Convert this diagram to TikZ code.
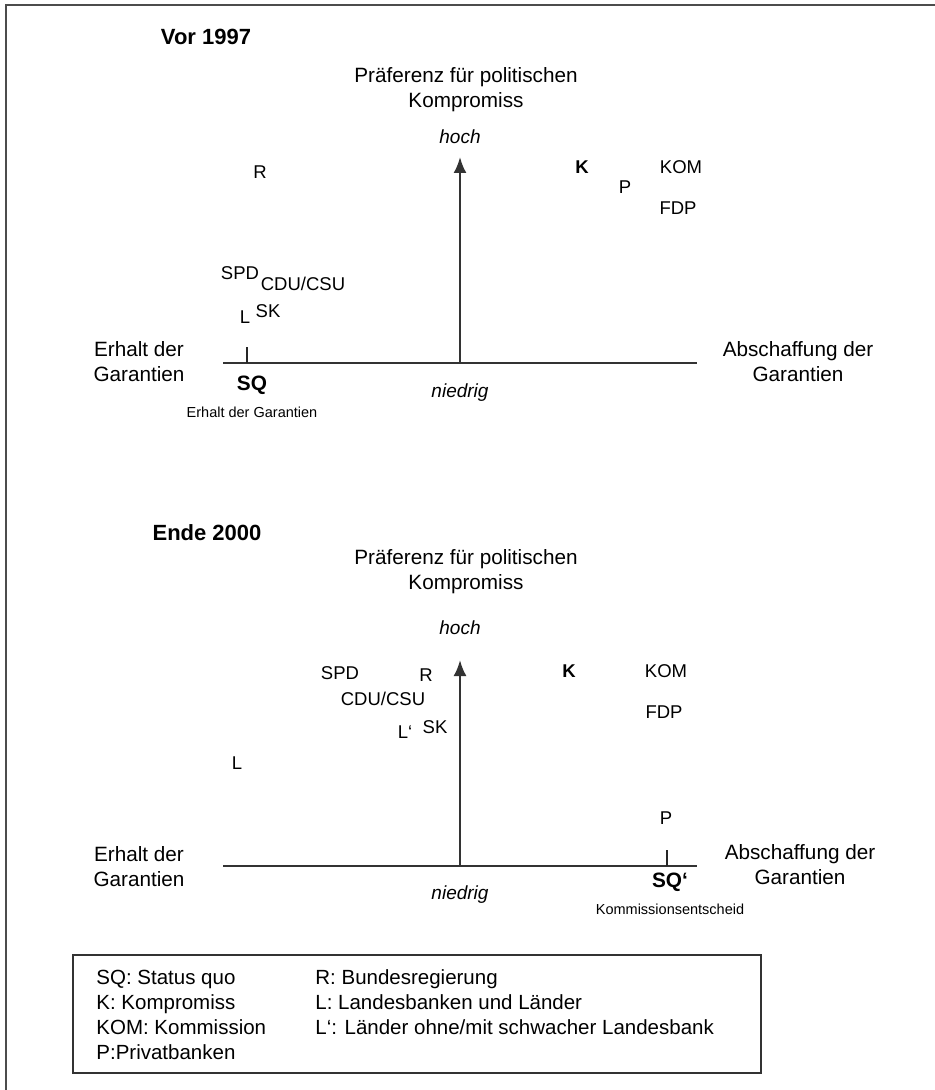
\documentclass[tikz,border=0pt]{standalone}
\usepackage{fontspec}
\setmainfont{Liberation Sans}
\usetikzlibrary{arrows.meta,positioning}

\begin{document}
\begin{tikzpicture}[x=0.5pt, y=-0.5pt,
    party/.style={inner sep=0pt, font=\fontsize{9.25}{11}\selectfont},
    axislabel/.style={inner sep=0pt, align=center, font=\fontsize{10.35}{12.5}\selectfont},
    level/.style={inner sep=0pt, font=\fontsize{9.5}{11}\selectfont\itshape},
    smalllabel/.style={inner sep=0pt, font=\fontsize{7.25}{9}\selectfont},
    title/.style={inner sep=0pt, font=\fontsize{11}{13}\selectfont\bfseries},
    legendline/.style={inner sep=0pt, anchor=base west, font=\fontsize{10.25}{12.5}\selectfont},
    axis/.style={draw=black!80, line width=1.2pt},
    tickmark/.style={draw=black!85, line width=1.4pt}]
    \useasboundingbox (0,0) rectangle (935,1090);
    % frame
    \draw[black!70, line width=1.1pt] (6,1090) -- (6,5) -- (935,5);

    % Vor 1997
    \node[title] (t1) at (206,37) {Vor 1997};
    \node[axislabel] (pref1) at (466,90) {Präferenz für politischen\\Kompromiss};
    \coordinate (o1) at (460,363);
    \coordinate (top1) at (460,157);
    \coordinate (w1) at (223,363);
    \coordinate (e1) at (697,363);
    \coordinate (sqa) at (247,363);
    \coordinate (sqa top) at (247,347);
    \draw[axis] (w1) -- (e1);
    \draw[axis, -{Latex[length=8pt,width=6.5pt]}] (o1) -- (top1);
    \draw[tickmark] (sqa) -- (sqa top);
    \node[level] (hoch1) at (460,137) {hoch};
    \node[level] (nied1) at (460,393) {niedrig};
    \node[axislabel] (erh1) at (139,362) {Erhalt der\\Garantien};
    \node[axislabel] (ab1) at (798,362) {Abschaffung der\\Garantien};
    \node[party, font=\fontsize{10.4}{12}\selectfont\bfseries] (sq1) at (252,385) {SQ};
    \node[smalllabel] (sq1txt) at (252,412) {Erhalt der Garantien};
    \node[party] (r1) at (260,172) {R};
    \node[party] (spd1) at (240,273) {SPD};
    \node[party] (cdu1) at (303,284) {CDU/CSU};
    \node[party] (l1) at (245,317) {L};
    \node[party] (sk1) at (268,311) {SK};
    \node[party, font=\fontsize{9.25}{11}\selectfont\bfseries] (k1) at (582,167) {K};
    \node[party] (p1) at (625,187) {P};
    \node[party] (kom1) at (681,167) {KOM};
    \node[party] (fdp1) at (678,208) {FDP};

    % Ende 2000
    \node[title] (t2) at (207,533) {Ende 2000};
    \node[axislabel] (pref2) at (466,572) {Präferenz für politischen\\Kompromiss};
    \coordinate (o2) at (460,866);
    \coordinate (top2) at (460,660);
    \coordinate (w2) at (223,866);
    \coordinate (e2) at (697,866);
    \coordinate (sqb) at (667,866);
    \coordinate (sqb top) at (667,850);
    \draw[axis] (w2) -- (e2);
    \draw[axis, -{Latex[length=8pt,width=6.5pt]}] (o2) -- (top2);
    \draw[tickmark] (sqb) -- (sqb top);
    \node[level] (hoch2) at (460,628) {hoch};
    \node[level] (nied2) at (460,895) {niedrig};
    \node[axislabel] (erh2) at (139,867) {Erhalt der\\Garantien};
    \node[axislabel] (ab2) at (800,865) {Abschaffung der\\Garantien};
    \node[party, font=\fontsize{10.4}{12}\selectfont\bfseries] (sq2) at (670,882) {SQ‘};
    \node[smalllabel] (sq2txt) at (670,909) {Kommissionsentscheid};
    \node[party] (spd2) at (340,673) {SPD};
    \node[party] (r2) at (426,675) {R};
    \node[party] (cdu2) at (383,699) {CDU/CSU};
    \node[party] (lp2) at (405,732) {L‘};
    \node[party] (sk2) at (435,727) {SK};
    \node[party] (l2) at (237,763) {L};
    \node[party, font=\fontsize{9.25}{11}\selectfont\bfseries] (k2) at (569,671) {K};
    \node[party] (kom2) at (666,671) {KOM};
    \node[party] (fdp2) at (664,712) {FDP};
    \node[party] (p2) at (666,818) {P};

    % Legende
    \draw[black!80, line width=1.1pt] (73,955) rectangle (761,1073);
    \node[legendline] (lsq) at (96,984) {SQ: Status quo};
    \node[legendline] (lk) at (96,1009) {K: Kompromiss};
    \node[legendline] (lkom) at (96,1034) {KOM: Kommission};
    \node[legendline] (lp) at (96,1059) {P:Privatbanken};
    \node[legendline] (lr) at (315,984) {R: Bundesregierung};
    \node[legendline] (ll) at (315,1009) {L: Landesbanken und Länder};
    \node[legendline] (llp) at (315,1034) {L‘: Länder ohne/mit schwacher Landesbank};
\end{tikzpicture}
\end{document}
